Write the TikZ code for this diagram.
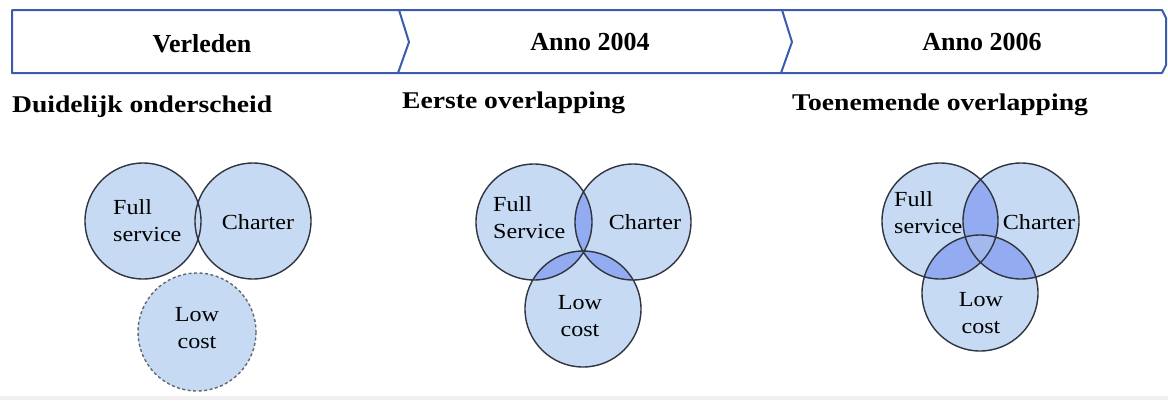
\documentclass[tikz,border=0pt]{standalone}
\usepackage{fontspec}
\setmainfont{Liberation Serif}
\definecolor{bannerc}{HTML}{3A5BB0}
\definecolor{lite}{HTML}{C6DAF4}
\definecolor{darkf}{HTML}{93ABF0}
\definecolor{triplef}{HTML}{A3B9EE}
\definecolor{edgec}{HTML}{2F3440}
\newcommand{\hs}[1]{\scalebox{1.12}[1]{#1}}
\newcommand{\hh}[1]{\scalebox{1.15}[1]{#1}}
\begin{document}
\begin{tikzpicture}[x=1pt,y=-1pt,
  ttl/.style={font=\fontsize{26}{30}\selectfont\bfseries, anchor=base},
  hdg/.style={font=\fontsize{24}{28}\selectfont\bfseries, anchor=base west, inner sep=0pt},
  lbl/.style={font=\fontsize{21.5}{27}\selectfont, align=center, inner sep=0pt},
  lbll/.style={lbl, align=left, anchor=west},
  circ/.style={draw=edgec, line width=1.4pt},
  bline/.style={draw=bannerc, line width=2pt, line join=round}]
\useasboundingbox (0,0) rectangle (1168,400);
\fill[white] (0,0) rectangle (1168,400);
\fill[black!6] (0,396) rectangle (1168,400);

% banner
\coordinate (b0t) at (12,10); \coordinate (b0b) at (12,73);
\coordinate (b1t) at (399,10); \coordinate (b1m) at (409,42); \coordinate (b1b) at (398,73);
\coordinate (b2t) at (782,10); \coordinate (b2m) at (792,42); \coordinate (b2b) at (781,73);
\coordinate (b3t) at (1162,10); \coordinate (b3m) at (1166,42); \coordinate (b3b) at (1162,73);
\draw[bline] (b0t) -- (b3t) -- ([yshift=-8]b3t -| b3m) -- ([yshift=8]b3b -| b3m) -- (b3b) -- (b0b) -- cycle;
\draw[bline] (b1t) -- (b1m) -- (b1b);
\draw[bline] (b2t) -- (b2m) -- (b2b);

\node[ttl] (t1) at (202,52) {Verleden};
\node[ttl] (t2) at (590,50) {Anno 2004};
\node[ttl] (t3) at (982,50) {Anno 2006};

\node[hdg] (h1) at (12,112) {\hh{Duidelijk onderscheid}};
\node[hdg] (h2) at (402,108) {\hh{Eerste overlapping}};
\node[hdg] (h3) at (792,110) {\hh{Toenemende overlapping}};

% panel 1
\coordinate (F1) at (143,221); \coordinate (C1) at (253,221); \coordinate (L1) at (197,332);
\fill[lite] (F1) circle (58) (C1) circle (58) (L1) circle (59);
\draw[circ] (F1) circle (58) (C1) circle (58);
\draw[circ, draw=edgec!75, dash pattern=on 3pt off 2.5pt] (L1) circle (59);

% panel 2
\coordinate (F2) at (534,222); \coordinate (C2) at (633,222); \coordinate (L2) at (583,309);
\fill[lite] (F2) circle (58) (C2) circle (58) (L2) circle (58);
\begin{scope}\clip (F2) circle (58); \fill[darkf] (C2) circle (58) (L2) circle (58); \end{scope}
\begin{scope}\clip (C2) circle (58); \fill[darkf] (L2) circle (58); \end{scope}
\draw[circ] (F2) circle (58) (C2) circle (58) (L2) circle (58);

% panel 3
\coordinate (F3) at (940,221); \coordinate (C3) at (1021,221); \coordinate (L3) at (980,293);
\fill[lite] (F3) circle (58) (C3) circle (58) (L3) circle (58);
\begin{scope}\clip (F3) circle (58); \fill[darkf] (C3) circle (58) (L3) circle (58); \end{scope}
\begin{scope}\clip (C3) circle (58); \fill[darkf] (L3) circle (58); \end{scope}
\begin{scope}\clip (F3) circle (58); \clip (C3) circle (58); \fill[triplef] (L3) circle (58); \end{scope}
\draw[circ] (F3) circle (58) (C3) circle (58) (L3) circle (58);

% labels
\node[lbll] (f1) at (113,221) {\hs{Full}\\\hs{service}};
\node[lbl] (c1) at (258,222) {\hs{Charter}};
\node[lbl] (l1) at (197,328) {\hs{Low}\\\hs{cost}};

\node[lbll] (f2) at (493,218) {\hs{Full}\\\hs{Service}};
\node[lbl] (c2) at (645,222) {\hs{Charter}};
\node[lbl] (l2) at (580,316) {\hs{Low}\\\hs{cost}};

\node[lbll] (f3) at (894,213) {\hs{Full}\\\hs{service}};
\node[lbl] (c3) at (1039,222) {\hs{Charter}};
\node[lbl] (l3) at (981,313) {\hs{Low}\\\hs{cost}};
\end{tikzpicture}
\end{document}
